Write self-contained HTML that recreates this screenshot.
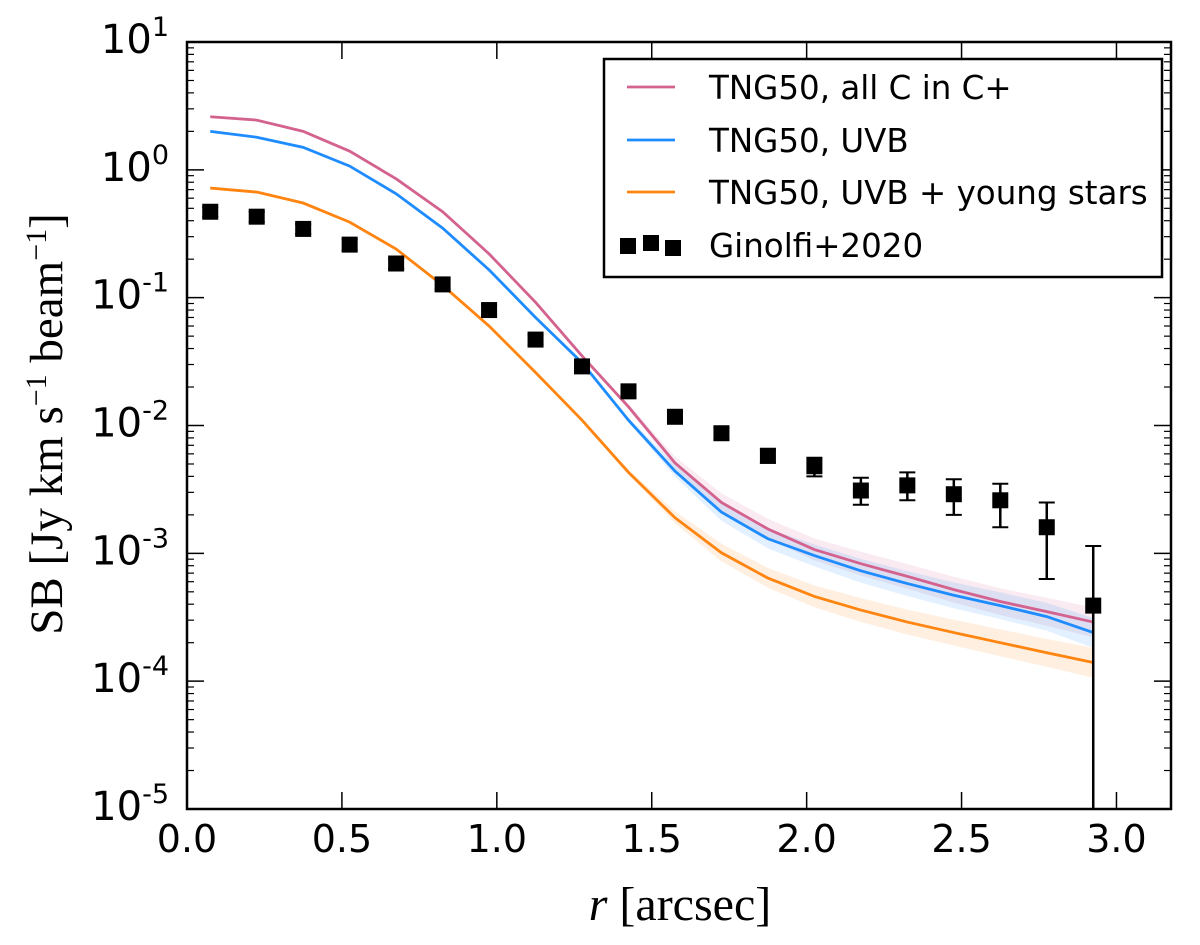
<!DOCTYPE html>
<html><head><meta charset="utf-8"><style>
html,body{margin:0;padding:0;background:#fff}
svg{display:block}
</style></head><body>
<svg id="chart" width="1200" height="945" xmlns="http://www.w3.org/2000/svg">
<rect width="1200" height="945" fill="#fff"/>
<g id="bands"></g>
<g id="lines"></g>
<g id="points"></g>
<g id="axes"></g>
<g id="legend"></g>
<text transform="translate(62,424) rotate(-90)" text-anchor="middle" font-family="Liberation Serif, serif" font-size="47">SB [Jy km s<tspan baseline-shift="super" font-size="30">−1</tspan> beam<tspan baseline-shift="super" font-size="30">−1</tspan>]</text>
<text x="680" y="920" text-anchor="middle" font-family="Liberation Serif, serif" font-size="48"><tspan font-style="italic">r</tspan> [arcsec]</text>
</svg>
<script>
const radii = [0.075,0.225,0.375,0.525,0.675,0.825,0.975,1.125,1.275,1.425,1.575,1.725,1.875,2.025,2.175,2.325,2.475,2.625,2.775,2.925];
const allCplus = [2.6,2.45,2.0,1.4,0.85,0.47,0.22,0.092,0.035,0.014,0.0051,0.0025,0.00155,0.00107,0.00083,0.00066,0.00052,0.00042,0.00035,0.00029];
const uvb = [2.0,1.8,1.5,1.07,0.65,0.35,0.165,0.07,0.031,0.011,0.0044,0.0021,0.0013,0.00096,0.00073,0.00058,0.00047,0.00039,0.00032,0.00024];
const uvbStars = [0.72,0.67,0.55,0.39,0.24,0.125,0.06,0.026,0.011,0.0043,0.0019,0.00101,0.00064,0.00046,0.00036,0.00029,0.00024,0.0002,0.000167,0.00014];
const bandWidth = [0,0,0,0,0,0,0,0,0,0.05,0.12,0.18,0.2,0.22,0.24,0.25,0.26,0.27,0.28,0.3];
const obsValues = [0.47,0.43,0.345,0.26,0.185,0.127,0.08,0.047,0.029,0.0185,0.0117,0.0087,0.0058,0.0048,0.0031,0.0034,0.0029,0.0026,0.0016,0.00039];
const obsLow = [0.43,0.39,0.315,0.235,0.168,0.116,0.072,0.043,0.026,0.0168,0.0106,0.0078,0.0051,0.0040,0.0024,0.0026,0.0020,0.0016,0.00063,0.000001];
const obsHigh = [0.51,0.47,0.375,0.285,0.202,0.138,0.088,0.051,0.032,0.0202,0.0128,0.0096,0.0065,0.0056,0.0039,0.0043,0.0038,0.0035,0.0025,0.00114];
const xTicks = [0,0.5,1.0,1.5,2.0,2.5,3.0];
const xTickLabels = ["0.0","0.5","1.0","1.5","2.0","2.5","3.0"];
const yExps = [1,0,-1,-2,-3,-4,-5];

const L=187,R=1171,T=42,B=809,XMAX=3.176;
const NS='http://www.w3.org/2000/svg';
const sx=v=>L+v/XMAX*(R-L);
const sy=v=>T+(1-Math.log10(v))/6*(B-T);
const clampY=y=>Math.min(B,Math.max(T,y));
function mk(tag,attrs,parent){const e=document.createElementNS(NS,tag);for(const k in attrs)e.setAttribute(k,attrs[k]);parent.appendChild(e);return e;}
const bands=document.getElementById('bands'),lines=document.getElementById('lines'),pts=document.getElementById('points'),axes=document.getElementById('axes'),leg=document.getElementById('legend');

const series=[[allCplus,'#d4628f','line-all-c-in-cplus'],[uvb,'#1e8cff','line-uvb'],[uvbStars,'#ff8410','line-uvb-young-stars']];
series.forEach(([vals,col,name])=>{
  let up='',dn='';
  radii.forEach((r,i)=>{up+=(i?'L':'M')+sx(r)+','+sy(vals[i]*(1+bandWidth[i]));});
  for(let i=radii.length-1;i>=0;i--){dn+='L'+sx(radii[i])+','+sy(vals[i]*(1-bandWidth[i]*0.8));}
  const b=mk('path',{d:up+dn+'Z',fill:col,'fill-opacity':0.13,stroke:'none'},bands);
  
  
  const d=radii.map((r,i)=>(i?'L':'M')+sx(r)+','+sy(vals[i])).join('');
  const p=mk('path',{d:d,fill:'none',stroke:col,'stroke-width':2.8},lines);
  
  
});

radii.forEach((r,i)=>{
  const x=sx(r),y1=clampY(sy(obsHigh[i])),y2=clampY(sy(obsLow[i])),y=sy(obsValues[i]);
  const g=mk('g',{},pts);
  
  
  mk('line',{x1:x,x2:x,y1:y1,y2:y2,stroke:'#000','stroke-width':2.5},g);
  mk('line',{x1:x-8,x2:x+8,y1:y1,y2:y1,stroke:'#000','stroke-width':2},g);
  if(y2<B) mk('line',{x1:x-8,x2:x+8,y1:y2,y2:y2,stroke:'#000','stroke-width':2},g);
  mk('rect',{x:x-8,y:y-8,width:16,height:16,fill:'#000'},g);
});

const fr=mk('rect',{x:L,y:T,width:R-L,height:B-T,fill:'none',stroke:'#000','stroke-width':2.5},axes);


xTicks.forEach((v,i)=>{
  const x=sx(v);
  mk('line',{x1:x,x2:x,y1:B,y2:B-17,stroke:'#000','stroke-width':1.5},axes);
  mk('line',{x1:x,x2:x,y1:T,y2:T+17,stroke:'#000','stroke-width':1.5},axes);
  const t=mk('text',{x:x,y:852,'text-anchor':'middle','font-family':'DejaVu Sans, Liberation Sans, sans-serif','font-size':38},axes);
  t.textContent=xTickLabels[i];
  
  
});
yExps.forEach(e=>{
  const y=sy(Math.pow(10,e));
  mk('line',{x1:L,x2:L+17,y1:y,y2:y,stroke:'#000','stroke-width':1.5},axes);
  mk('line',{x1:R,x2:R-17,y1:y,y2:y,stroke:'#000','stroke-width':1.5},axes);
  if(e>-5){for(let m=2;m<=9;m++){const ym=sy(m*Math.pow(10,e-1));
    mk('line',{x1:L,x2:L+7,y1:ym,y2:ym,stroke:'#000','stroke-width':1.2},axes);
    mk('line',{x1:R,x2:R-7,y1:ym,y2:ym,stroke:'#000','stroke-width':1.2},axes);}}
  const t=mk('text',{x:169,y:y+11,'text-anchor':'end','font-family':'DejaVu Sans, Liberation Sans, sans-serif','font-size':40},axes);
  
  
  const a=mk('tspan',{},t);a.textContent='10';
  const s=mk('tspan',{'font-size':27,dy:-17},t);s.textContent=(e<0?'-':'')+Math.abs(e);
});

const lb=mk('rect',{x:604,y:59,width:558,height:218,fill:'#fff',stroke:'#000','stroke-width':2.5},leg);


const legLabels=['TNG50, all C in C+','TNG50, UVB','TNG50, UVB + young stars','Ginolfi+2020'];
const legY=[87,140,192,245];
legLabels.forEach((lab,i)=>{
  const g=mk('g',{},leg);
  
  
  if(i<3){mk('line',{x1:627,x2:675,y1:legY[i],y2:legY[i],stroke:series[i][1],'stroke-width':2.8},g);}
  else{[628,651,673].forEach((cx,j)=>mk('rect',{x:cx-8,y:legY[i]-8+[1,-2,3][j],width:16,height:16,fill:'#000'},g));}
  const t=mk('text',{x:709,y:legY[i]+12,'font-family':'DejaVu Sans, Liberation Sans, sans-serif','font-size':32.5},g);
  t.textContent=lab;
});
</script>
</body></html>
